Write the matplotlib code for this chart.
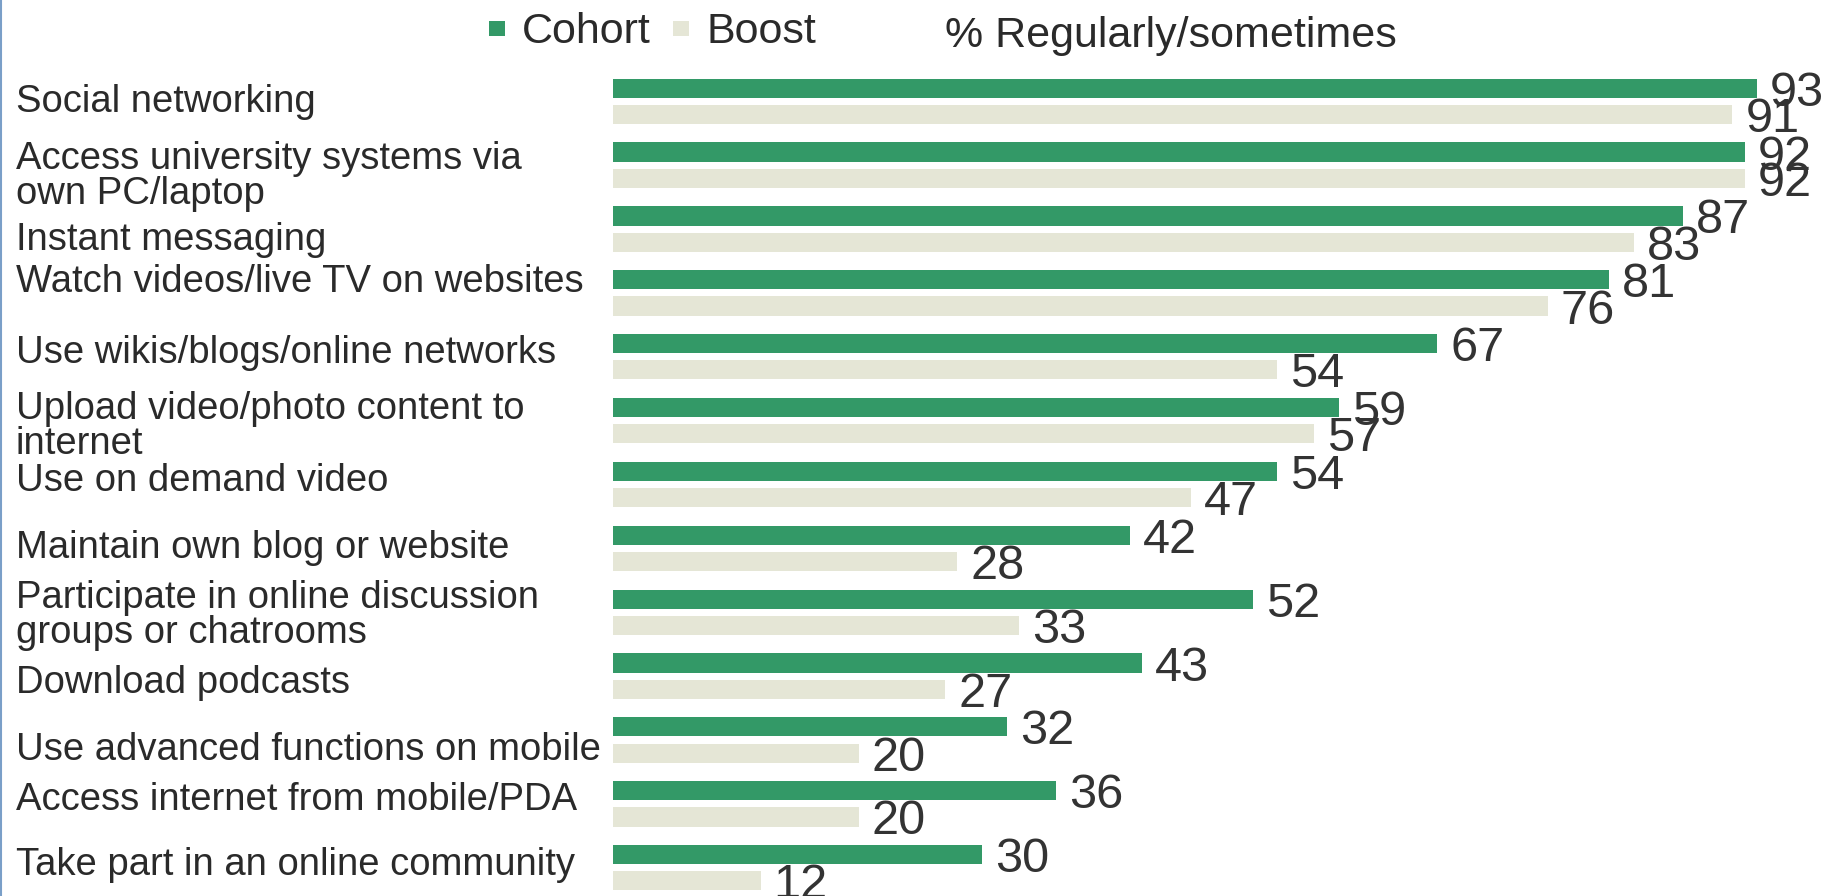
import matplotlib.pyplot as plt
from matplotlib.lines import Line2D
from matplotlib.patches import Rectangle
from matplotlib.transforms import blended_transform_factory, offset_copy

# Data
categories = [
    'Social networking',
    'Access university systems via\nown PC/laptop',
    'Instant messaging',
    'Watch videos/live TV on websites',
    'Use wikis/blogs/online networks',
    'Upload video/photo content to\ninternet',
    'Use on demand video',
    'Maintain own blog or website',
    'Participate in online discussion\ngroups or chatrooms',
    'Download podcasts',
    'Use advanced functions on mobile',
    'Access internet from mobile/PDA',
    'Take part in an online community',
]
cohort = [93, 92, 87, 81, 67, 59, 54, 42, 52, 43, 32, 36, 30]
boost = [91, 92, 83, 76, 54, 57, 47, 28, 33, 27, 20, 20, 12]
series_names = ['Cohort', 'Boost']
axis_note = '% Regularly/sometimes'

# baseline of each label's first line, in px below its group centre (as in the original)
label_shift = [11, 4, 21, -1, 6, -2, 6, 10, -4, 17, 20, 6, 7]
line_px = 35

GREEN = '#339967'
BEIGE = '#e5e6d6'
TEXT = '#2a2a2a'

W, H = 1826, 896
plt.rcParams['font.family'] = ['Liberation Sans', 'DejaVu Sans']

fig = plt.figure(figsize=(W / 100, H / 100), dpi=100)
left_px = 613
ax = fig.add_axes([left_px / W, 0, 1 - left_px / W, 1])
ax.axis('off')

px_per_unit = 12.3
group_px = 63.87
first_px = 101.3
ax.set_xlim(0, (W - left_px) / px_per_unit)
ax.set_ylim((H - first_px) / group_px, -first_px / group_px)

ypos = list(range(len(categories)))
off = 0.205
hgt = 0.30
yc = [y - off for y in ypos]
yb = [y + off for y in ypos]
ax.barh(yc, cohort, height=hgt, color=GREEN)
ax.barh(yb, boost, height=hgt, color=BEIGE)

for ys, vals in ((yc, cohort), (yb, boost)):
    for y, v in zip(ys, vals):
        ax.annotate(str(v), xy=(v, y), xytext=(13, 0), textcoords='offset pixels',
                    ha='left', va='center_baseline', fontsize=35, color='#333333',
                    annotation_clip=False)

trans = blended_transform_factory(fig.transFigure, ax.transData)
for y, lab, sh in zip(ypos, categories, label_shift):
    for k, line in enumerate(lab.split('\n')):
        t = offset_copy(trans, fig=fig, y=-(k * line_px) * 72 / fig.dpi, units='points')
        ax.text(16 / W, y + sh / group_px, line, transform=t, ha='left', va='baseline',
                fontsize=27.5, color=TEXT)

# legend row
fig.add_artist(Rectangle((489 / W, 1 - 36 / H), 16 / W, 15 / H, transform=fig.transFigure,
                         color=GREEN, lw=0))
fig.text(522 / W, 1 - 43 / H, series_names[0], fontsize=31, color=TEXT, va='baseline')
fig.add_artist(Rectangle((673 / W, 1 - 36 / H), 16 / W, 15 / H, transform=fig.transFigure,
                         color=BEIGE, lw=0))
fig.text(706 / W, 1 - 43 / H, series_names[1], fontsize=31, color=TEXT, va='baseline')
fig.text(945 / W, 1 - 47 / H, axis_note, fontsize=31, color=TEXT, va='baseline')

# thin frame edge on the left
fig.add_artist(Line2D([1 / W, 1 / W], [0, 1], transform=fig.transFigure, color='#7a9fc8', lw=1.5))

fig.savefig('out.png', dpi=100)
